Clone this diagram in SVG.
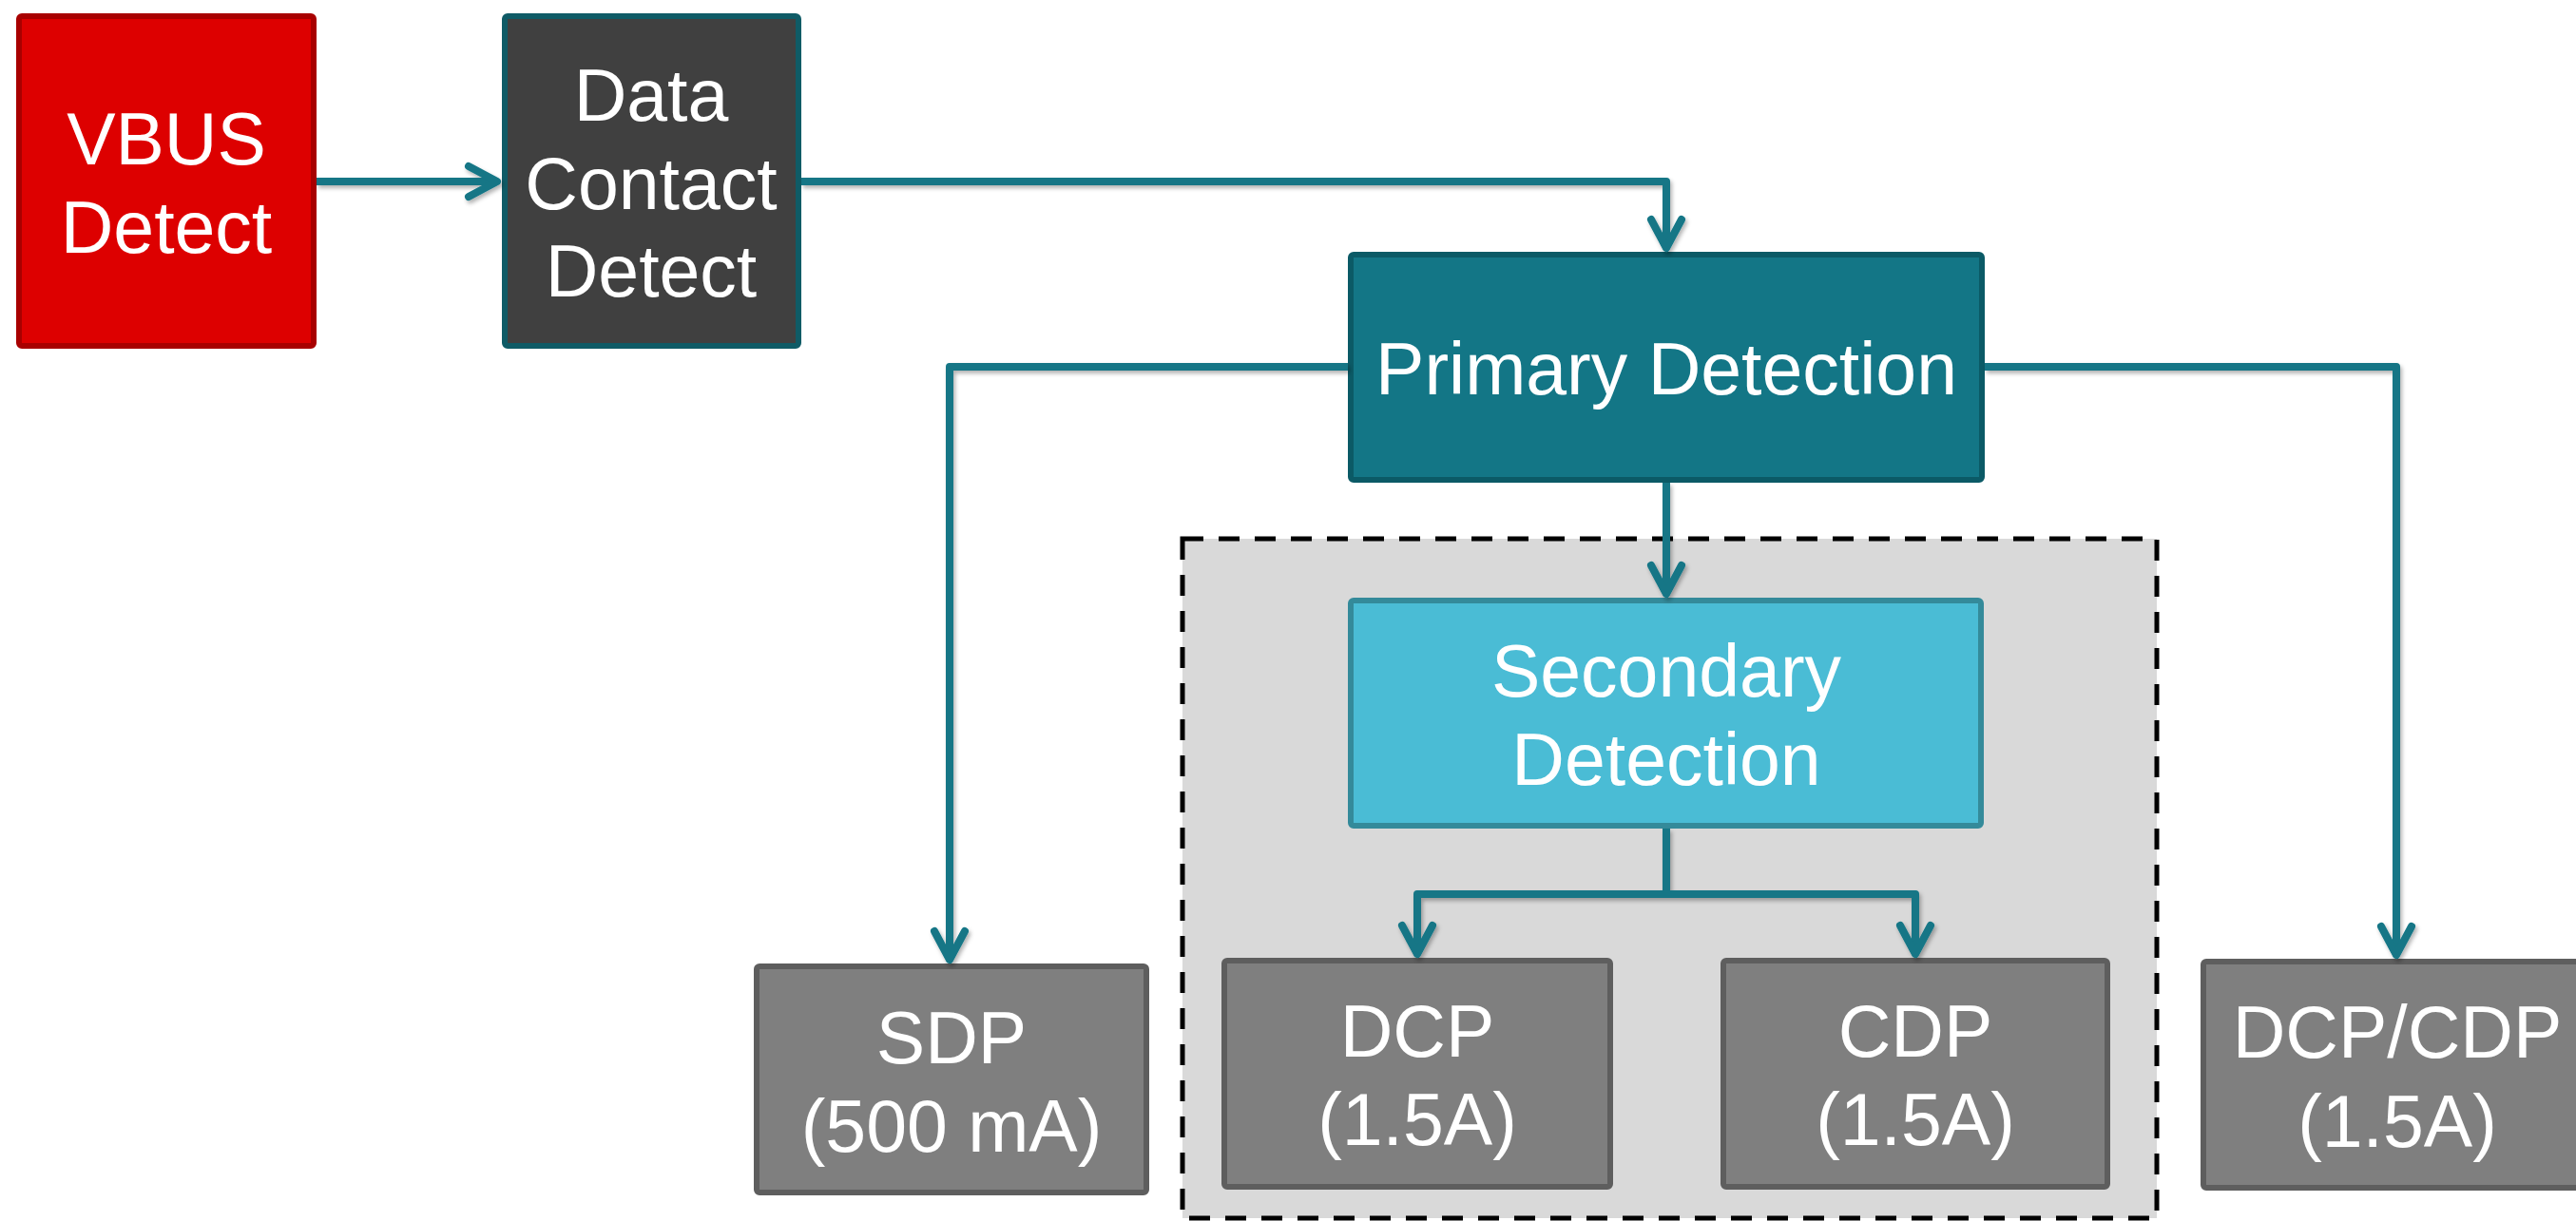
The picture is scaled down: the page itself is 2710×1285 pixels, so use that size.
<svg xmlns="http://www.w3.org/2000/svg" width="2710" height="1285" viewBox="0 0 2710 1285">
  <style>
    .box { stroke-width: 6; }
    .lbl { font-family: "Liberation Sans", Arial, sans-serif; font-size: 77px; fill: #ffffff; text-anchor: middle; }
    .conn { fill: none; stroke: #137686; stroke-width: 8; stroke-linejoin: round; }
    .gray { fill: #7f7f7f; stroke: #5e5e5e; }
  </style>
  <defs>
    <marker id="arr" markerUnits="userSpaceOnUse" markerWidth="50" markerHeight="50" viewBox="-40 -25 50 50" refX="0" refY="0" orient="auto" overflow="visible">
      <path d="M-30,-16 L0,0 L-30,16" fill="none" stroke="#137686" stroke-width="8" stroke-linecap="round" stroke-linejoin="round"/>
    </marker>
    <filter id="sh" x="-5%" y="-5%" width="110%" height="110%">
      <feDropShadow dx="2" dy="3" stdDeviation="2" flood-color="#000" flood-opacity="0.3"/>
    </filter>
  </defs>
  <rect width="2710" height="1285" fill="#ffffff"/>

  <g id="group-secondary">
    <rect x="1244" y="567" width="1025" height="715" fill="#d9d9d9" stroke="#000000" stroke-width="5" stroke-dasharray="22 16"/>
  </g>

  <g id="vbus">
    <rect class="box" x="20" y="17" width="310" height="347" rx="3" fill="#dd0000" stroke="#a80000"/>
    <text class="lbl" x="175" y="173">VBUS</text>
    <text class="lbl" x="175" y="266">Detect</text>
  </g>
  <g id="dcd">
    <rect class="box" x="531" y="17" width="309" height="347" rx="3" fill="#404040" stroke="#0f5b66"/>
    <text class="lbl" x="685" y="127">Data</text>
    <text class="lbl" x="685" y="220">Contact</text>
    <text class="lbl" x="685" y="312">Detect</text>
  </g>
  <g id="primary">
    <rect class="box" x="1421" y="268" width="664" height="237" rx="3" fill="#137686" stroke="#0b5a66"/>
    <text class="lbl" x="1753" y="415">Primary Detection</text>
  </g>
  <g id="secondary">
    <rect class="box" x="1421" y="632" width="663" height="237" rx="3" fill="#4abcd5" stroke="#348a9a"/>
    <text class="lbl" x="1753" y="733">Secondary</text>
    <text class="lbl" x="1753" y="826">Detection</text>
  </g>
  <g id="sdp">
    <rect class="box gray" x="796" y="1017" width="410" height="238" rx="3"/>
    <text class="lbl" x="1001" y="1119">SDP</text>
    <text class="lbl" x="1001" y="1212">(500 mA)</text>
  </g>
  <g id="dcp">
    <rect class="box gray" x="1288" y="1011" width="406" height="238" rx="3"/>
    <text class="lbl" x="1491" y="1112">DCP</text>
    <text class="lbl" x="1491" y="1205">(1.5A)</text>
  </g>
  <g id="cdp">
    <rect class="box gray" x="1813" y="1011" width="404" height="238" rx="3"/>
    <text class="lbl" x="2015" y="1112">CDP</text>
    <text class="lbl" x="2015" y="1205">(1.5A)</text>
  </g>
  <g id="dcpcdp">
    <rect class="box gray" x="2318" y="1012" width="410" height="238" rx="3"/>
    <text class="lbl" x="2522" y="1113">DCP/CDP</text>
    <text class="lbl" x="2522" y="1207">(1.5A)</text>
  </g>

  <g id="connectors" filter="url(#sh)">
    <path class="conn" d="M333,191 H523" marker-end="url(#arr)"/>
    <path class="conn" d="M843,191 H1753 V261" marker-end="url(#arr)"/>
    <path class="conn" d="M1418,386 H999 V1010" marker-end="url(#arr)"/>
    <path class="conn" d="M2088,386 H2521 V1005" marker-end="url(#arr)"/>
    <path class="conn" d="M1753,508 V625" marker-end="url(#arr)"/>
    <path class="conn" d="M1753,872 V941 H1491 V1004" marker-end="url(#arr)"/>
    <path class="conn" d="M1753,941 H2015 V1004" marker-end="url(#arr)"/>
  </g>
</svg>
